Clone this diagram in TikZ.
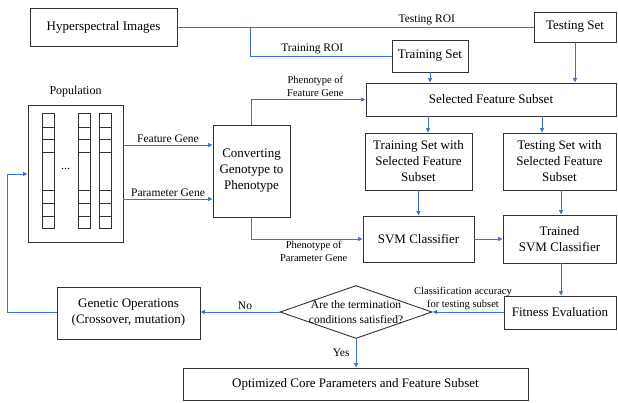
\documentclass[tikz,border=0pt]{standalone}
\usepackage{fontspec}
\setmainfont{Liberation Serif}
\usetikzlibrary{arrows.meta,shapes.geometric}
\definecolor{linkblue}{RGB}{68,114,196}
\definecolor{boxgray}{RGB}{50,50,50}

\begin{document}
\begin{tikzpicture}[x=1pt, y=-1pt,
		procbox/.style={draw=boxgray, line width=0.9pt, rectangle, align=center, inner sep=1pt, font=\fontsize{13}{16}\selectfont},
		conn/.style={draw=linkblue, line width=0.9pt, -{Triangle[length=4.5pt,width=4pt]}},
		plainconn/.style={draw=linkblue, line width=0.9pt},
		lbl/.style={font=\fontsize{11.5}{13}\selectfont, align=center, inner sep=2pt},
		smalllbl/.style={font=\fontsize{10.5}{13}\selectfont, align=center, inner sep=2pt}]
	\useasboundingbox (0,0) rectangle (618,403);
	% data preparation
	\node[procbox, minimum width=147pt, minimum height=38pt] (HI) at (103.5, 27) {Hyperspectral Images};
	\node[procbox, minimum width=82pt, minimum height=30pt] (TeS) at (575, 27) {Testing Set};
	\node[procbox, minimum width=76pt, minimum height=32pt] (TrS) at (430, 56) {Training Set};
	\node[procbox, minimum width=250pt, minimum height=33pt] (SFS) at (491, 99.5) {Selected Feature Subset};
	% population
	\node[font=\fontsize{12}{14}\selectfont] (PopT) at (75.5, 92) {Population};
	\node[draw=boxgray, line width=0.9pt, rectangle, minimum width=95pt, minimum height=137pt] (Pop) at (75.5, 173.5) {};
	\foreach \cx in {42, 78, 99} {
		\draw[boxgray, line width=0.9pt] (\cx, 113) rectangle (\cx+12, 228);
		\foreach \sy in {127, 139, 152, 190, 203, 216}
			\draw[boxgray, line width=0.9pt] (\cx, \sy) -- (\cx+12, \sy);
	}
	\node[font=\fontsize{12}{14}\selectfont] (dots) at (65.5, 169) {...};
	\node[procbox, minimum width=77pt, minimum height=92pt] (Conv) at (251.5, 171) {Converting\\Genotype to\\Phenotype};
	% classifier
	\node[procbox, minimum width=107pt, minimum height=57pt] (TrSW) at (418.5, 161.5) {Training Set with\\Selected Feature\\Subset};
	\node[procbox, minimum width=113pt, minimum height=57pt] (TeSW) at (559.5, 161.5) {Testing Set with\\Selected Feature\\Subset};
	\node[procbox, minimum width=111pt, minimum height=46pt] (SVM) at (418.5, 239) {SVM Classifier};
	\node[procbox, minimum width=113pt, minimum height=48pt] (TSVM) at (559.5, 239) {Trained\\SVM Classifier};
	\node[procbox, minimum width=112pt, minimum height=33pt] (Fit) at (560, 312.5) {Fitness Evaluation};
	% decision
	\node[draw=boxgray, line width=0.9pt, diamond, inner sep=0pt, minimum width=152pt, minimum height=53pt] (Cond) at (356, 312) {};
	\node[font=\fontsize{11.5}{15}\selectfont, align=center] (CondT) at (Cond.center) {Are the termination\\conditions satisfied?};
	\node[procbox, minimum width=143pt, minimum height=52pt] (GO) at (128.5, 313) {Genetic Operations\\(Crossover, mutation)};
	\node[procbox, minimum width=345pt, minimum height=32pt] (Opt) at (355.5, 384) {Optimized Core Parameters and Feature Subset};
	\coordinate (roi) at (250, 27);
	\coordinate (back) at (7, 312);
	% connectors
	\draw[plainconn] (HI.east) -- (TeS.west) node[lbl, above, pos=0.7] {Testing ROI};
	\draw[plainconn] (roi) |- (TrS.west) node[lbl, above, pos=0.72] {Training ROI};
	\draw[conn] (TrS.south) -- (TrS.south |- SFS.north);
	\draw[conn] (TeS.south) -- (TeS.south |- SFS.north);
	\draw[conn] (Pop.east |- 0,145) -- (Conv.west |- 0,145) node[lbl, above, midway] {Feature Gene};
	\draw[conn] (Pop.east |- 0,199) -- (Conv.west |- 0,199) node[lbl, above, midway] {Parameter Gene};
	\draw[conn] (Conv.north) |- (SFS.west) node[smalllbl, above, pos=0.78] {Phenotype of\\Feature Gene};
	\draw[conn] (Conv.south) |- (SVM.west) node[smalllbl, below, pos=0.78] {Phenotype of\\Parameter Gene};
	\draw[conn] (SFS.south -| 428,0) -- (TrSW.north -| 428,0);
	\draw[conn] (SFS.south -| 542,0) -- (TeSW.north -| 542,0);
	\draw[conn] (TrSW.south) -- (SVM.north);
	\draw[conn] (TeSW.south -| 561,0) -- (TSVM.north -| 561,0);
	\draw[conn] (SVM.east) -- (TSVM.west);
	\draw[conn] (TSVM.south -| 561,0) -- (Fit.north -| 561,0);
	\draw[conn] (Fit.west |- Cond.east) -- (Cond.east) node[smalllbl, above, midway, xshift=-5pt] {Classification accuracy\\for testing subset};
	\draw[conn] (Cond.west) -- (GO.east |- Cond.west) node[lbl, above, midway, xshift=5pt] {No};
	\draw[conn] (Cond.south) -- (Opt.north -| Cond.south) node[lbl, left, midway, xshift=-4pt] {Yes};
	\draw[conn] (GO.west |- back) -- (back) |- (Pop.west |- 0,174);
\end{tikzpicture}
\end{document}
